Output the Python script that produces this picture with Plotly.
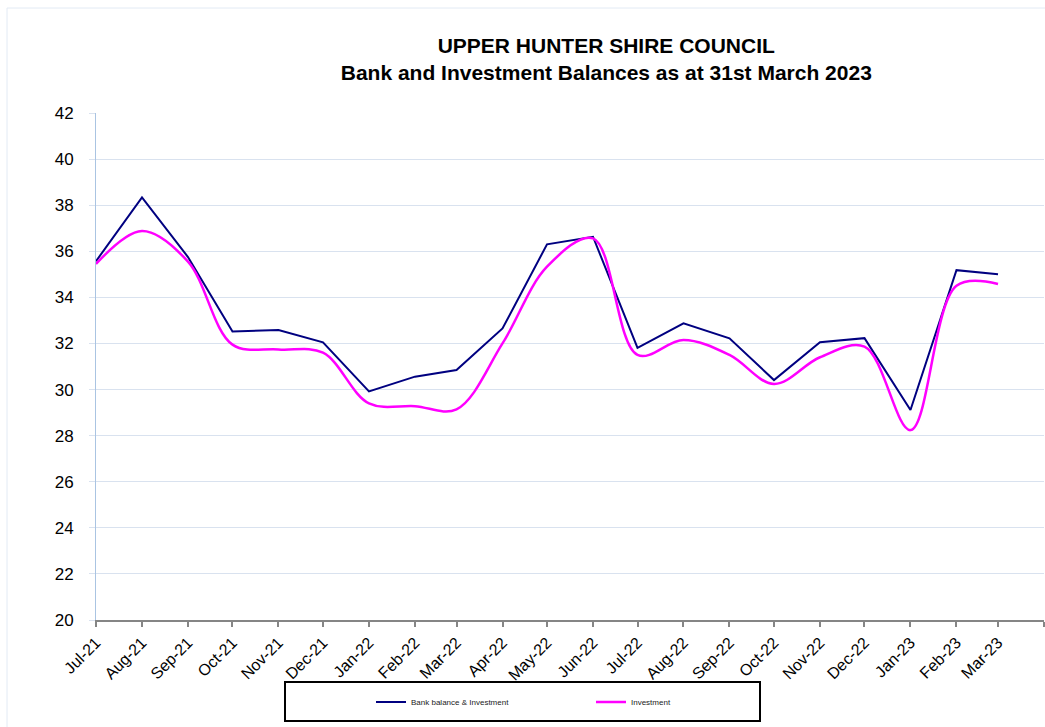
import plotly.graph_objects as go
import pandas as pd

months = ["Jul-21", "Aug-21", "Sep-21", "Oct-21", "Nov-21", "Dec-21", "Jan-22", "Feb-22",
          "Mar-22", "Apr-22", "May-22", "Jun-22", "Jul-22", "Aug-22", "Sep-22", "Oct-22",
          "Nov-22", "Dec-22", "Jan-23", "Feb-23", "Mar-23"]
bank_balance = [35.57, 38.34, 35.75, 32.52, 32.58, 32.05, 29.92, 30.56, 30.85, 32.65, 36.30,
                36.63, 31.81, 32.87, 32.22, 30.41, 32.05, 32.23, 29.11, 35.18, 35.00]
investment = [35.45, 36.88, 35.55, 31.95, 31.74, 31.60, 29.40, 29.28, 29.14, 32.00, 35.33,
              36.56, 31.50, 32.15, 31.50, 30.24, 31.40, 31.86, 28.24, 34.50, 34.58]
end_tick = "Apr-23"
y_ticks = list(range(20, 43, 2))

dates = pd.to_datetime(months, format="%b-%y")
tick_dates = list(dates) + [pd.to_datetime(end_tick, format="%b-%y")]
tick_text = months + [""]

W, H = 1045, 727
L, R, T, B = 96, 1044, 113, 620


def px(x):
    return (x - L) / (R - L)


def py(y):
    return (B - y) / (B - T)


fig = go.Figure()
fig.add_trace(go.Scatter(
    x=dates, y=bank_balance, mode="lines", name="Bank balance & Investment",
    line=dict(color="#000080", width=2)))
fig.add_trace(go.Scatter(
    x=dates, y=investment, mode="lines", name="Investment",
    line=dict(color="#ff00ff", width=2.5, shape="spline", smoothing=1.0)))

fig.update_layout(
    width=W, height=H, autosize=False,
    margin=dict(l=L, r=W - R, t=T, b=H - B),
    paper_bgcolor="white", plot_bgcolor="white",
    font=dict(family="Liberation Sans, Arial, sans-serif", color="black"),
    title=dict(
        text="UPPER HUNTER SHIRE COUNCIL<br>Bank and Investment Balances as at 31st March 2023",
        x=562.5 / W, xref="paper", xanchor="center",
        y=1 - 53 / H, yref="container", yanchor="top",
        font=dict(size=21, family="Liberation Sans, Arial, sans-serif", color="black", weight="bold"),
    ),
    xaxis=dict(
        type="date",
        range=[tick_dates[0], tick_dates[-1]],
        tickmode="array", tickvals=tick_dates, ticktext=tick_text,
        tickangle=-45, tickfont=dict(size=16),
        showline=True, linecolor="#858585", linewidth=2,
        ticks="outside", ticklen=5, tickwidth=1.5, tickcolor="#858585",
        showgrid=False, zeroline=False,
    ),
    yaxis=dict(
        range=[20, 42], tickvals=y_ticks, tickfont=dict(size=17),
        showline=True, linecolor="#aac4e2", linewidth=1,
        showgrid=True, gridcolor="#d9e2ef", gridwidth=1,
        ticks="outside", ticklen=6, tickcolor="#d9e2ef",
        ticklabelstandoff=12,
        zeroline=False,
    ),
    showlegend=True,
    legend=dict(
        xref="container", yref="container", x=371 / W, y=1 - 702 / H,
        xanchor="left", yanchor="middle", orientation="h",
        entrywidth=175, entrywidthmode="pixels",
        bgcolor="rgba(0,0,0,0)", borderwidth=0,
        font=dict(size=8, color="#222222"),
    ),
    shapes=[
        dict(type="rect", xref="paper", yref="paper",
             x0=px(285), x1=px(760), y0=py(682), y1=py(721),
             line=dict(color="black", width=2), fillcolor="rgba(0,0,0,0)", layer="above"),
        dict(type="rect", xref="paper", yref="paper",
             x0=px(7), x1=px(1060), y0=py(8), y1=py(740),
             line=dict(color="#e2eaf4", width=1), fillcolor="rgba(0,0,0,0)", layer="below"),
    ],
)

fig.write_html("out.html")
